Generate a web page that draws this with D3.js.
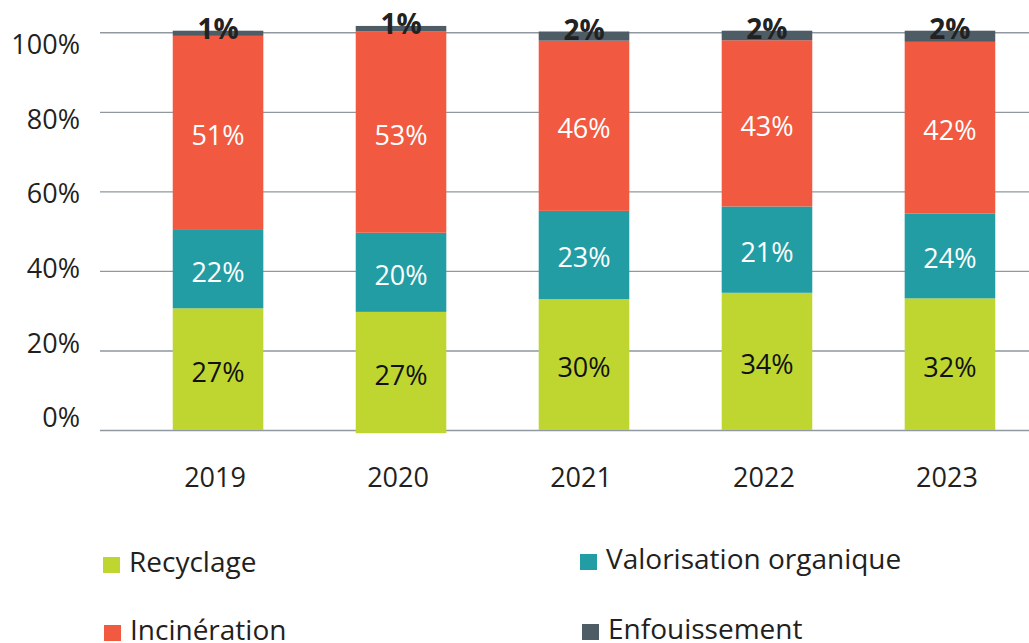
<!DOCTYPE html>
<html>
<head>
<meta charset="utf-8">
<script src="https://cdn.jsdelivr.net/npm/d3@7"></script>
<style>
  body { margin: 0; background: #fff; }
  text { font-family: "Open Sans", "Noto Sans", sans-serif; }
</style>
</head>
<body>
<div id="chart"></div>
<script>
const years = ['2019', '2020', '2021', '2022', '2023'];
const seriesNames = ['Recyclage', 'Valorisation organique', 'Incinération', 'Enfouissement'];

// segment heights as drawn in the picture (percent)
const recyclage = [30.6, 30.5, 32.9, 34.5, 33.1];
const valorisation = [19.7, 19.9, 22.2, 21.7, 21.3];
const incineration = [48.8, 50.6, 42.8, 41.8, 43.2];
const enfouissement = [1.3, 1.4, 2.3, 2.4, 2.8];
const base = [0, -0.8, 0, 0, 0];

// printed labels
const recyclageLabel = [27, 27, 30, 34, 32];
const valorisationLabel = [22, 20, 23, 21, 24];
const incinerationLabel = [51, 53, 46, 43, 42];
const enfouissementLabel = [1, 1, 2, 2, 2];

const yTicks = [0, 20, 40, 60, 80, 100];

const colors = ['#bfd631', '#229da4', '#f15a40', '#4e5c66'];
const labelColors = ['#111', '#fff', '#fff', '#222'];

const w = 1029, h = 643;

const svg = d3.select('#chart').append('svg')
  .attr('width', w)
  .attr('height', h);

const y = d3.scaleLinear().domain([0, 100]).range([430, 32.3]);
// tick labels sit on a slightly tighter scale than the gridlines
const yLabel = d3.scaleLinear().domain([0, 100]).range([418, 45]);

const x = d3.scaleBand()
  .domain(years)
  .range([127, 1041])
  .paddingInner(0.505)
  .paddingOuter(0.25);

// gridlines
const grid = svg.append('g')
  .attr('transform', 'translate(100,0)')
  .call(d3.axisLeft(y).tickValues(yTicks).tickSize(-929).tickFormat(''));
grid.select('.domain').remove();
grid.selectAll('line').attr('stroke', '#8f999f').attr('stroke-width', 1.4);

// y tick labels
const yAxis = svg.append('g')
  .attr('transform', 'translate(80,0)')
  .call(d3.axisLeft(yLabel).tickValues(yTicks).tickSize(0).tickPadding(0).tickFormat(d => d + '%'));
yAxis.select('.domain').remove();
yAxis.selectAll('text')
  .attr('font-size', 27)
  .attr('fill', '#231f20')
  .attr('font-family', '"Open Sans", sans-serif');

// x labels
const xAxis = svg.append('g')
  .attr('transform', 'translate(-3,487)')
  .call(d3.axisBottom(x).tickSize(0).tickPadding(0));
xAxis.select('.domain').remove();
xAxis.selectAll('text')
  .attr('dy', 0)
  .attr('font-size', 27)
  .attr('fill', '#231f20')
  .attr('font-family', '"Open Sans", sans-serif');

// build segments
const values = [recyclage, valorisation, incineration, enfouissement];
const labels = [recyclageLabel, valorisationLabel, incinerationLabel, enfouissementLabel];
const segments = [];
years.forEach((yr, i) => {
  let y0 = base[i];
  values.forEach((s, k) => {
    segments.push({ year: yr, k: k, y0: y0, y1: y0 + s[i], label: labels[k][i] });
    y0 += s[i];
  });
});

svg.selectAll('rect.seg')
  .data(segments)
  .enter()
  .append('rect')
  .attr('class', 'seg')
  .attr('x', d => x(d.year))
  .attr('y', d => y(d.y1))
  .attr('width', x.bandwidth())
  .attr('height', d => y(d.y0) - y(d.y1))
  .attr('fill', d => colors[d.k]);

// labels inside the three main segments
svg.selectAll('text.seg')
  .data(segments.filter(d => d.k < 3))
  .enter()
  .append('text')
  .attr('class', 'seg')
  .attr('x', d => x(d.year) + x.bandwidth() / 2)
  .attr('y', d => (y(d.y0) + y(d.y1)) / 2 + 3)
  .attr('dy', '0.35em')
  .attr('text-anchor', 'middle')
  .attr('font-size', 27)
  .attr('fill', d => labelColors[d.k])
  .text(d => d.label + '%');

// bold labels on top of the thin top segment
svg.selectAll('text.top')
  .data(segments.filter(d => d.k === 3))
  .enter()
  .append('text')
  .attr('class', 'top')
  .attr('x', d => x(d.year) + x.bandwidth() / 2)
  .attr('y', d => y(d.y1) + 8)
  .attr('text-anchor', 'middle')
  .attr('font-size', 28)
  .attr('font-weight', 'bold')
  .attr('fill', labelColors[3])
  .text(d => d.label + '%');

// legend
const legendPos = [[103, 572], [580, 569], [104, 640], [582, 639]];
const legend = svg.selectAll('g.legend')
  .data(seriesNames)
  .enter()
  .append('g')
  .attr('class', 'legend')
  .attr('transform', (d, i) => 'translate(' + legendPos[i][0] + ',' + legendPos[i][1] + ')');

legend.append('rect')
  .attr('x', 0)
  .attr('y', -15)
  .attr('width', 17)
  .attr('height', 16)
  .attr('fill', (d, i) => colors[i]);

legend.append('text')
  .attr('x', 26)
  .attr('y', 0)
  .attr('font-size', 28)
  .attr('fill', '#231f20')
  .text(d => d);
</script>
</body>
</html>
